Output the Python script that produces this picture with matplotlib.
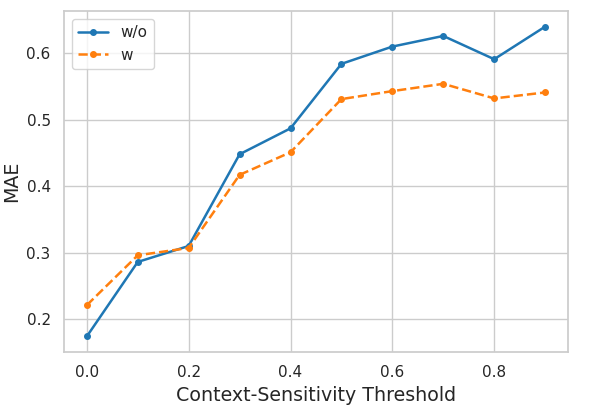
import matplotlib
matplotlib.use("Agg")
import matplotlib.pyplot as plt
import seaborn as sns

thresholds = [0.0, 0.1, 0.2, 0.3, 0.4, 0.5, 0.6, 0.7, 0.8, 0.9]
mae_wo = [0.174, 0.286, 0.310, 0.448, 0.487, 0.584, 0.610, 0.626, 0.591, 0.640]
mae_w = [0.221, 0.296, 0.307, 0.417, 0.451, 0.531, 0.543, 0.554, 0.532, 0.541]

sns.set_theme(style="whitegrid", context="notebook", palette="tab10")
plt.rcParams['font.family'] = ['DejaVu Sans']

DPI = 100
fig = plt.figure(figsize=(603 / DPI, 413 / DPI), dpi=DPI)
ax = fig.add_axes([0.106, 0.148, 0.836, 0.825])
ax.plot(thresholds, mae_wo, marker='.', markersize=8, linewidth=1.8,
        linestyle='-', color='#1f77b4', label='w/o')
ax.plot(thresholds, mae_w, marker='.', markersize=8, linewidth=1.8,
        linestyle='--', color='#ff7f0e', label='w')
ax.set_xlabel('Context-Sensitivity Threshold', fontsize=13.7)
ax.set_ylabel('MAE', fontsize=13.7)
ax.tick_params(labelsize=11)
ax.legend(loc='upper left', fontsize=11)
fig.savefig('out.png', dpi=DPI)
